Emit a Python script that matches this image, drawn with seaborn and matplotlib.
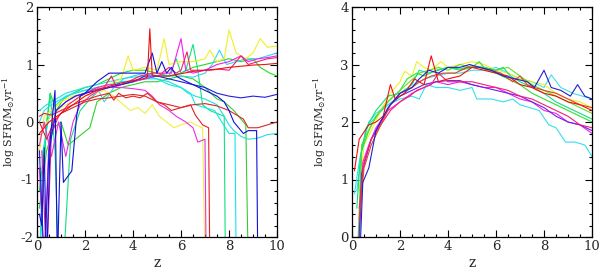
import matplotlib
matplotlib.use("Agg")
import matplotlib.pyplot as plt
import seaborn as sns
import pandas as pd
from matplotlib.ticker import MultipleLocator

# ---------------- data: left panel ----------------
L_red1_z = [0.1,0.5,1.0,1.5,2.0,2.5,3.0,3.5,4.0,4.4,4.6,4.7,4.8,5.0,5.5,6.0,6.5,7.0,7.5,8.0,8.5,9.0,9.5,10]
L_red1_v = [-0.2,0.0,0.15,0.3,0.45,0.55,0.62,0.68,0.72,0.75,0.78,1.62,0.82,0.80,0.80,0.84,0.88,0.90,0.92,0.95,0.97,0.99,1.0,1.02]

L_rm_z = [0.2,0.4,0.6,0.9,1.3,1.8,2.3,2.8,3.1,3.3,3.8,4.3,4.8,5.2,5.5,5.8,6.0,6.25,6.4,6.8,7.2,7.6,8.0,8.5,8.8,9.2,9.6,10]
L_rm_v = [-0.5,-2.5,-0.2,0.1,0.3,0.45,0.55,0.6,0.8,0.62,0.7,0.8,0.85,0.85,0.95,0.85,0.9,1.22,0.9,0.9,0.9,0.92,0.9,1.15,1.0,1.05,1.1,1.12]

L_red2_z = [0.1,0.3,0.6,1.0,1.5,2.0,2.5,3.0,3.2,3.4,3.7,4.0,4.3,4.6,5.0,5.3,5.6,6.0,6.4,6.6,6.9,7.15,7.2]
L_red2_v = [0.1,0.15,0.12,0.2,0.3,0.38,0.45,0.5,0.38,0.5,0.42,0.45,0.42,0.5,0.35,0.3,0.2,0.25,0.3,0.12,-0.05,-0.1,-2.5]

L_red3_z = [0.1,0.4,0.7,1.0,1.5,2.0,2.5,3.0,3.5,4.0,4.5,5.0,5.5,6.0,6.5,7.0,7.5,8.0,8.4,8.6,8.8,9.2,9.6,10]
L_red3_v = [0.0,-0.3,0.0,0.15,0.25,0.35,0.4,0.42,0.45,0.48,0.45,0.35,0.3,0.25,0.3,0.32,0.28,0.2,0.1,0.05,-0.1,-0.1,-0.05,0.0]

L_yel1_z = [0.1,0.3,0.6,1.0,1.5,2.0,2.5,3.0,3.5,3.8,4.0,4.5,5.0,5.3,5.5,6.0,6.5,7.0,7.2,7.5,7.8,8.0,8.3,8.7,9.0,9.3,9.6,10]
L_yel1_v = [-0.5,0.1,0.2,0.35,0.45,0.5,0.6,0.65,0.75,1.15,0.9,0.95,0.9,1.45,1.0,1.05,1.05,1.1,1.25,1.05,1.1,1.6,1.2,1.1,1.2,1.45,1.3,1.32]

L_yel2_z = [0.1,0.4,0.8,1.2,1.6,2.0,2.4,2.8,3.2,3.6,3.9,4.2,4.5,4.8,5.1,5.4,5.7,6.0,6.4,6.6,6.9,7.0]
L_yel2_v = [-0.3,0.0,0.2,0.3,0.38,0.45,0.5,0.55,0.45,0.3,0.2,0.25,0.15,0.3,0.1,0.0,-0.1,-0.05,0.0,-0.05,-0.1,-2.5]

L_mag1_z = [0.1,0.3,0.5,0.8,1.2,1.6,2.0,2.5,3.0,3.5,4.0,4.5,5.0,5.3,5.6,6.0,6.2,6.5,7.0,7.5,8.0,8.5,8.8,9.2,9.6,10]
L_mag1_v = [-0.8,-2.5,-0.3,0.2,0.35,0.45,0.5,0.6,0.65,0.65,0.7,0.75,0.8,0.85,0.85,1.45,0.9,0.85,0.9,1.0,1.05,1.15,1.05,1.1,1.12,1.15]

L_mag2_z = [0.1,0.3,0.6,0.9,1.2,1.5,1.8,2.2,2.6,3.0,3.5,4.0,4.5,4.8,5.1,5.5,5.8,6.2,6.5,6.7,7.0,7.05]
L_mag2_v = [-0.4,0.0,-0.6,0.0,-0.6,0.0,0.3,0.45,0.55,0.6,0.6,0.58,0.55,0.45,0.3,0.2,0.1,0.0,-0.1,-0.35,-0.3,-2.5]

L_blue1_z = [0.1,0.2,0.3,0.4,0.55,0.75,0.85,1.0,1.1,1.45,1.65,1.8,2.0,2.5,3.0,3.5,4.0,4.5,4.8,5.0,5.2,5.4,5.6,5.8,6.0,6.5,7.0,7.5,7.8,8.0,8.2,8.4,8.6,8.8,9.15,9.2]
L_blue1_v = [-1.6,-1.8,-0.45,-2.5,-0.3,0.55,-2.5,0.0,-1.05,-0.85,0.1,0.45,0.5,0.7,0.85,0.85,0.85,0.85,1.2,0.85,1.05,0.85,0.95,0.8,0.75,0.65,0.55,0.45,0.35,0.2,0.0,-0.1,-0.2,-0.15,-0.15,-2.5]

L_blue2_z = [0.1,0.3,0.5,0.8,1.2,1.6,2.0,2.5,3.0,3.5,4.0,4.5,5.0,5.5,6.0,6.5,7.0,7.5,8.0,8.5,9.0,9.5,10]
L_blue2_v = [-0.5,-2.5,-0.5,0.2,0.35,0.45,0.5,0.55,0.6,0.65,0.7,0.8,0.8,0.75,0.7,0.65,0.6,0.5,0.45,0.42,0.45,0.43,0.48]

L_cyan1_z = [0.1,0.4,0.8,1.2,1.6,2.0,2.5,3.0,3.5,4.0,4.5,5.0,5.5,6.0,6.3,6.6,7.0,7.5,7.8,8.0,8.2,8.5,8.8,9.2,9.6,10]
L_cyan1_v = [0.2,0.3,0.4,0.5,0.55,0.6,0.65,0.7,0.75,0.78,0.8,0.75,0.7,0.6,0.5,0.45,0.4,0.3,0.1,-0.05,-0.15,-0.25,-0.3,-0.28,-0.22,-0.2]

L_cyan2_z = [0.1,0.3,0.6,1.0,1.5,2.0,2.5,2.8,3.2,3.6,4.0,4.5,5.0,5.5,6.0,6.5,7.0,7.3,7.6,7.9,8.3,8.7,9.2,9.6,10]
L_cyan2_v = [0.0,0.2,0.3,0.4,0.5,0.55,0.6,0.35,0.6,0.75,0.8,0.85,0.8,0.8,0.8,0.78,0.85,1.0,1.25,1.0,1.05,1.1,1.1,1.15,1.2]

L_cyan3_z = [0.1,0.25,0.5,0.8,1.2,1.6,2.0,2.5,3.0,3.5,4.0,4.5,5.0,5.5,6.0,6.4,6.6,7.0,7.4,7.7,8.0,8.25,8.3]
L_cyan3_v = [-2.5,-0.5,0.1,0.3,0.45,0.5,0.55,0.6,0.65,0.7,0.72,0.75,0.75,0.65,0.6,0.5,0.3,0.25,0.2,0.0,-0.2,-0.2,-2.5]

L_grn1_z = [0.1,0.3,0.55,0.8,1.1,1.5,2.0,2.5,3.0,3.5,4.0,4.5,5.0,5.5,6.0,6.5,7.0,7.5,8.0,8.5,9.0,9.3,9.7,10]
L_grn1_v = [-1.2,-0.5,0.5,0.2,0.4,0.5,0.6,0.65,0.75,0.85,0.9,0.9,0.85,0.8,0.85,0.95,1.0,1.05,1.1,1.05,1.1,0.95,0.85,0.8]

L_grn2_z = [0.1,0.4,0.7,1.0,1.3,1.6,1.9,2.2,2.5,3.0,3.5,4.0,4.5,5.0,5.5,6.0,6.5,7.0,7.5,7.8,8.2,8.5,8.7,8.8]
L_grn2_v = [-1.5,-0.5,-0.1,0.0,-0.4,-0.3,-0.2,-0.1,0.35,0.5,0.6,0.65,0.7,0.7,0.75,0.8,0.75,0.6,0.4,0.35,0.2,0.05,-0.05,-2.5]

L_grn3_z = [0.1,0.4,0.55,0.75,0.9,1.1,1.4,1.8,2.2,2.6,3.0,3.5,4.0,4.5,5.0,5.5,5.8,6.0,6.2,6.5,6.7,6.9,7.2,7.5,7.8,7.85]
L_grn3_v = [-2.5,0.0,0.5,-0.5,-2.5,-2.5,-0.3,0.2,0.4,0.55,0.6,0.65,0.7,0.75,0.8,0.8,1.1,0.85,0.9,1.35,0.9,0.3,0.2,0.15,0.1,-2.5]

# ---------------- data: right panel ----------------
R_red_z = [0.1,0.3,0.7,1.0,1.3,1.6,1.8,2.2,2.6,3.0,3.3,3.6,4.0,4.5,5.0,5.5,6.0,6.5,7.0,7.5,8.0,8.5,9.0,9.5,10]
R_red_v = [1.15,1.7,1.95,2.0,2.1,2.65,2.4,2.5,2.75,2.65,3.15,2.7,2.75,2.8,2.95,2.9,2.85,2.8,2.65,2.6,2.5,2.45,2.35,2.3,2.2]

R_blue_z = [0.35,0.45,0.7,1.0,1.5,2.0,2.5,2.8,3.2,3.6,4.0,4.5,4.9,5.3,5.8,6.3,6.8,7.3,7.6,8.0,8.3,8.7,9.1,9.4,9.7,10]
R_blue_v = [-0.1,0.95,1.2,1.85,2.25,2.5,2.6,2.75,2.9,2.85,2.95,2.95,3.0,2.95,2.9,2.8,2.75,2.7,2.6,2.9,2.6,2.55,2.45,2.65,2.45,2.4]

R_cyanlo_z = [0.1,0.3,0.6,1.0,1.5,2.0,2.5,2.8,3.1,3.5,4.0,4.5,5.0,5.2,5.8,6.3,6.7,7.0,7.4,7.8,8.2,8.5,8.9,9.3,9.7,10]
R_cyanlo_v = [0.75,1.3,1.9,2.1,2.3,2.4,2.45,2.4,2.65,2.6,2.6,2.55,2.6,2.4,2.4,2.35,2.4,2.3,2.25,2.2,1.95,1.9,1.65,1.65,1.6,1.4]

R_cyanhi_z = [0.2,0.4,0.7,1.0,1.5,2.0,2.5,3.0,3.5,4.0,4.5,5.0,5.5,6.0,6.5,7.0,7.5,8.0,8.3,8.7,9.2,9.6,10]
R_cyanhi_v = [0.8,1.5,2.0,2.15,2.3,2.45,2.6,2.75,2.8,2.85,2.85,2.9,2.9,2.95,2.85,2.75,2.7,2.6,2.82,2.6,2.5,2.45,2.4]

R_mag_z = [0.3,0.45,0.7,1.0,1.5,2.0,2.5,3.0,3.5,4.0,4.5,5.0,5.5,6.0,6.5,7.0,7.5,8.0,8.5,9.0,9.5,10]
R_mag_v = [-0.1,1.3,1.6,1.9,2.2,2.35,2.5,2.6,2.7,2.65,2.7,2.65,2.6,2.6,2.5,2.4,2.35,2.2,2.15,2.0,1.95,1.8]

R_purp_z = [0.3,0.4,0.8,1.2,1.6,2.0,2.5,3.0,3.5,4.0,4.5,5.0,5.5,6.0,6.5,7.0,7.5,8.0,8.5,9.0,9.5,10]
R_purp_v = [0.0,1.1,1.7,2.0,2.3,2.45,2.55,2.65,2.7,2.72,2.72,2.65,2.6,2.55,2.5,2.45,2.35,2.25,2.1,2.0,1.95,1.85]

R_grn1_z = [0.25,0.4,0.7,1.0,1.5,2.0,2.3,2.7,3.0,3.5,4.0,4.5,5.0,5.3,5.6,6.0,6.5,7.0,7.5,8.0,8.5,9.0,9.5,10]
R_grn1_v = [-0.1,1.5,1.85,2.1,2.35,2.55,2.75,2.85,2.8,2.9,2.95,2.9,2.95,3.05,2.9,2.85,2.75,2.65,2.5,2.4,2.3,2.2,2.1,2.0]

R_grn2_z = [0.3,0.4,0.8,1.2,1.6,2.0,2.4,2.8,3.2,3.6,4.0,4.5,5.0,5.5,6.0,6.5,7.0,7.5,8.0,8.5,9.0,9.5,10]
R_grn2_v = [0.0,1.6,1.95,2.2,2.4,2.55,2.7,2.85,2.9,2.95,2.9,3.0,2.95,2.95,2.9,2.95,2.8,2.65,2.55,2.45,2.35,2.25,2.15]

R_yel_z = [0.3,0.5,0.8,1.2,1.6,2.0,2.2,2.5,2.7,3.0,3.3,3.7,4.0,4.5,5.0,5.5,6.0,6.5,7.0,7.5,8.0,8.5,9.0,9.5,10]
R_yel_v = [0.8,1.6,1.85,2.2,2.5,2.7,2.88,2.8,3.05,2.95,2.9,3.05,2.95,3.0,3.05,3.0,2.9,2.85,2.75,2.7,2.65,2.5,2.4,2.35,2.25]

R_org_z = [0.3,0.5,0.8,1.2,1.6,2.0,2.5,2.8,3.3,3.8,4.3,4.8,5.3,5.8,6.2,6.7,7.0,7.3,7.6,8.0,8.5,9.0,9.5,10]
R_org_v = [0.3,1.2,1.6,1.95,2.3,2.5,2.6,2.7,2.8,2.85,2.85,2.95,2.95,2.9,2.85,2.7,2.8,2.65,2.6,2.55,2.5,2.4,2.3,2.25]

R_pr_z = [0.3,0.5,0.8,1.2,1.6,2.0,2.4,2.7,3.0,3.3,3.6,4.0,4.5,5.0,5.5,6.0,6.5,7.0,7.5,8.0,8.5,9.0,9.5,10]
R_pr_v = [0.5,1.3,1.7,1.95,2.2,2.35,2.45,2.55,2.6,2.65,2.85,2.7,2.7,2.7,2.65,2.6,2.55,2.45,2.4,2.3,2.2,2.1,1.95,1.9]

R_gc_z = [0.2,0.35,0.6,1.0,1.5,2.0,2.5,2.8,3.2,3.6,4.0,4.5,5.0,5.5,6.0,6.3,6.6,7.0,7.5,8.0,8.5,9.0,9.5,10]
R_gc_v = [0.5,1.4,1.9,2.2,2.45,2.5,2.65,2.9,2.85,2.9,2.95,2.92,2.98,2.95,2.9,2.95,2.8,2.7,2.6,2.5,2.35,2.25,2.15,2.05]

left_series = [
    ("L_grn1", L_grn1_z, L_grn1_v, "#20e020"),
    ("L_grn2", L_grn2_z, L_grn2_v, "#30d030"),
    ("L_grn3", L_grn3_z, L_grn3_v, "#10e080"),
    ("L_cyan1", L_cyan1_z, L_cyan1_v, "#20e0e0"),
    ("L_cyan2", L_cyan2_z, L_cyan2_v, "#30d8f0"),
    ("L_cyan3", L_cyan3_z, L_cyan3_v, "#10e8e8"),
    ("L_yel1", L_yel1_z, L_yel1_v, "#f0f020"),
    ("L_yel2", L_yel2_z, L_yel2_v, "#f0f040"),
    ("L_mag1", L_mag1_z, L_mag1_v, "#f020f0"),
    ("L_mag2", L_mag2_z, L_mag2_v, "#e830e0"),
    ("L_red2", L_red2_z, L_red2_v, "#e82020"),
    ("L_red3", L_red3_z, L_red3_v, "#d82828"),
    ("L_rm", L_rm_z, L_rm_v, "#f02070"),
    ("L_blue2", L_blue2_z, L_blue2_v, "#2020e0"),
    ("L_blue1", L_blue1_z, L_blue1_v, "#1010d8"),
    ("L_red1", L_red1_z, L_red1_v, "#f01010"),
]
right_series = [
    ("R_cyanlo", R_cyanlo_z, R_cyanlo_v, "#30e0f0"),
    ("R_cyanhi", R_cyanhi_z, R_cyanhi_v, "#40e0e8"),
    ("R_yel", R_yel_z, R_yel_v, "#f0f020"),
    ("R_grn1", R_grn1_z, R_grn1_v, "#30e030"),
    ("R_grn2", R_grn2_z, R_grn2_v, "#60e020"),
    ("R_gc", R_gc_z, R_gc_v, "#10e080"),
    ("R_mag", R_mag_z, R_mag_v, "#f020f0"),
    ("R_purp", R_purp_z, R_purp_v, "#7020e0"),
    ("R_pr", R_pr_z, R_pr_v, "#f02070"),
    ("R_org", R_org_z, R_org_v, "#e84020"),
    ("R_red", R_red_z, R_red_v, "#f01010"),
    ("R_blue", R_blue_z, R_blue_v, "#2020d0"),
]


def build(series):
    rows = []
    for name, zs, vs, _ in series:
        for i, (z, v) in enumerate(zip(zs, vs)):
            rows.append({"id": name, "z": z, "v": v, "order": i})
    df = pd.DataFrame(rows)
    pal = {name: c for name, _, _, c in series}
    return df, pal


sns.set_style("white")
plt.rcParams["font.family"] = ["DejaVu Serif"]
plt.rcParams["mathtext.fontset"] = "dejavuserif"
plt.rcParams["axes.unicode_minus"] = False

fig = plt.figure(figsize=(6.0, 2.71), dpi=100)
ax1 = fig.add_axes([37/600, 34/271, 240/600, 230/271])
ax2 = fig.add_axes([352/600, 34/271, 240/600, 230/271])

for ax, series, ylim, labx in [(ax1, left_series, (-2, 2), -0.085),
                               (ax2, right_series, (0, 4), -0.1)]:
    df, pal = build(series)
    sns.lineplot(data=df, x="z", y="v", hue="id", palette=pal, estimator=None,
                 sort=False, legend=False, linewidth=0.8, ax=ax)
    ax.set_xlim(0, 10)
    ax.set_ylim(*ylim)
    ax.xaxis.set_major_locator(MultipleLocator(2))
    ax.xaxis.set_minor_locator(MultipleLocator(0.5))
    ax.yaxis.set_major_locator(MultipleLocator(1))
    ax.yaxis.set_minor_locator(MultipleLocator(0.2))
    ax.tick_params(which="both", direction="in", top=True, right=True,
                   bottom=True, left=True, color="black", labelsize=9.5, width=0.8)
    ax.tick_params(which="major", length=5, pad=2.5)
    ax.tick_params(which="minor", length=2.5)
    for s in ax.spines.values():
        s.set_color("black")
        s.set_linewidth(0.9)
    ax.set_xlabel("z", fontsize=10, labelpad=2)
    ax.set_ylabel(r"log SFR/M$_{\odot}$yr$^{-1}$", fontsize=8)
    ax.yaxis.set_label_coords(labx, 0.5)

fig.savefig("out.png", dpi=100)
